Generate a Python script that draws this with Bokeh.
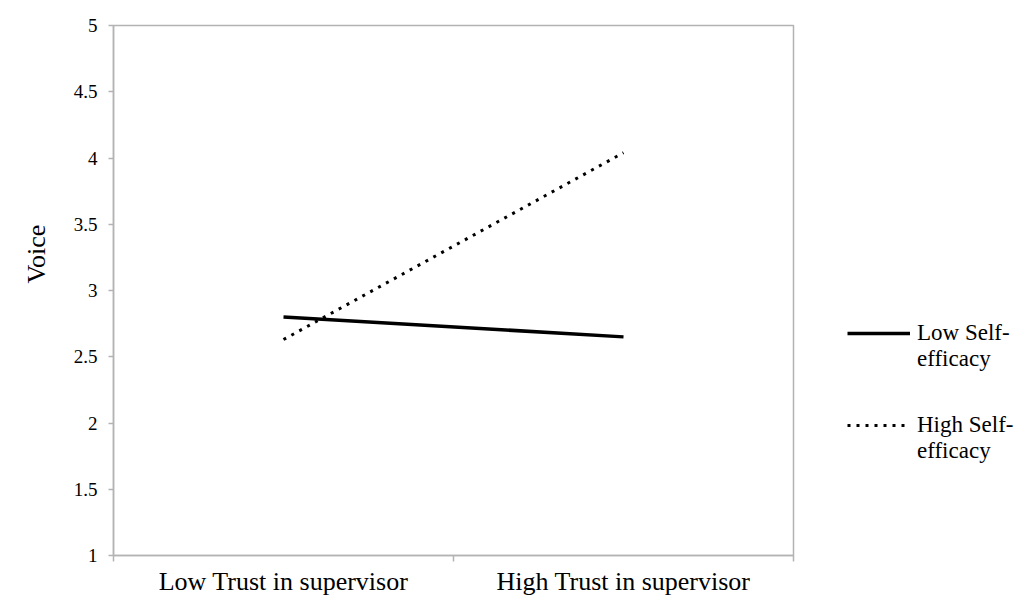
from bokeh.plotting import figure
from bokeh.models import FixedTicker, Legend, LegendItem, Range1d, Title
from bokeh.embed import file_html
from bokeh.resources import INLINE

# ---- data ----
categories = ["Low Trust in supervisor", "High Trust in supervisor"]
low_self_efficacy = [2.80, 2.65]
high_self_efficacy = [2.63, 4.04]
series_names = ["Low Self-\nefficacy", "High Self-\nefficacy"]
y_ticks = [1, 1.5, 2, 2.5, 3, 3.5, 4, 4.5, 5]
y_tick_labels = ["1", "1.5", "2", "2.5", "3", "3.5", "4", "4.5", "5"]
y_label = "Voice"

x_centers = [i + 0.5 for i in range(len(categories))]
x_bounds = [i for i in range(len(categories) + 1)]

FONT = "Liberation Serif"
GRAY = "#b3b3b3"

p = figure(
    frame_width=680, frame_height=530,
    min_border_left=113, min_border_right=239,
    min_border_top=25, min_border_bottom=42,
    x_range=Range1d(x_bounds[0], x_bounds[-1]),
    y_range=Range1d(y_ticks[0], y_ticks[-1]),
    output_backend="svg", toolbar_location=None,
)
p.xgrid.visible = False
p.ygrid.visible = False
p.outline_line_color = GRAY
p.outline_line_width = 1.5
p.background_fill_color = "white"
p.border_fill_color = "white"

# x axis: labels at category centers, tick marks at category bounds
xa = p.xaxis[0]
xa.ticker = FixedTicker(ticks=x_centers, minor_ticks=x_bounds)
xa.major_label_overrides = {c: lab for c, lab in zip(x_centers, categories)}
xa.major_tick_out = 0
xa.major_tick_in = 0
xa.minor_tick_out = 6
xa.minor_tick_in = 0
xa.minor_tick_line_color = GRAY
xa.minor_tick_line_width = 1.5
xa.axis_line_color = GRAY
xa.axis_line_width = 1.5
xa.major_label_standoff = 5
xa.major_label_text_font = FONT
xa.major_label_text_font_size = "26px"
xa.major_label_text_color = "black"

ya = p.yaxis[0]
ya.ticker = FixedTicker(ticks=y_ticks, minor_ticks=[])
ya.major_label_overrides = {t: lab for t, lab in zip(y_ticks, y_tick_labels)}
ya.major_tick_out = 5
ya.major_tick_in = 0
ya.major_tick_line_color = GRAY
ya.major_tick_line_width = 1.5
ya.minor_tick_line_color = None
ya.axis_line_color = GRAY
ya.axis_line_width = 1.5
ya.major_label_standoff = 11
ya.major_label_text_font = FONT
ya.major_label_text_font_size = "19px"
ya.major_label_text_color = "black"

ytitle = Title(text=y_label, align="left", offset=272, standoff=39,
               text_font=FONT, text_font_size="26px",
               text_font_style="normal", text_color="black")
p.add_layout(ytitle, "left")

r1 = p.line(x_centers, low_self_efficacy, line_color="black", line_width=3.5)
r2 = p.line(x_centers, high_self_efficacy, line_color="black", line_width=3,
            line_dash="3 6")

# a leading blank line keeps each glyph level with the first text line
legend = Legend(
    items=[LegendItem(label="\n" + series_names[0], renderers=[r1]),
           LegendItem(label="\n" + series_names[1], renderers=[r2])],
    location=(54, 91), orientation="vertical",
    padding=0, margin=0, spacing=14,
    glyph_width=63, glyph_height=28, label_standoff=7,
    border_line_color=None, background_fill_alpha=0,
    label_text_font=FONT, label_text_font_size="23px",
    label_text_color="black",
)
p.add_layout(legend, "right")

open("out.html", "w").write(file_html(p, INLINE))
